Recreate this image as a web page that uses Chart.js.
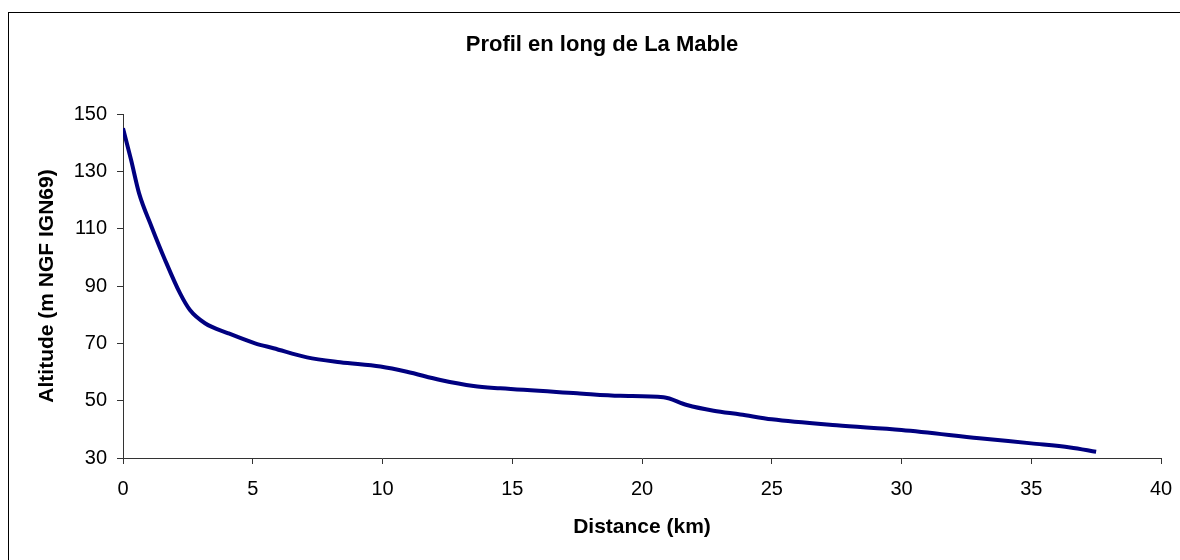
<!DOCTYPE html>
<html>
<head>
<meta charset="utf-8">
<script src="https://cdn.jsdelivr.net/npm/chart.js@4.4.1/dist/chart.umd.min.js"></script>
<style>
  html, body { margin: 0; padding: 0; background: #ffffff; }
  #wrap { width: 1180px; height: 560px; position: relative; }
</style>
</head>
<body>
<div id="wrap"><canvas id="c" width="1180" height="560"></canvas></div>
<script>
// Distance along the river (km)
const distances = [0, 0.31, 0.62, 1.10, 1.62, 2.20, 2.58, 3.16, 4.06, 5.09, 5.80, 7.09, 8.37, 9.92, 10.94, 12.23, 13.51, 14.54, 17.5, 19.16, 20.83, 21.73, 22.76, 23.79, 25, 27.5, 30, 33, 35, 36.5, 37.5];
// Altitude (m NGF IGN69)
const altitudes = [145, 134, 122.3, 110.7, 99.1, 87.4, 81.6, 77.0, 73.5, 70.0, 68.3, 65.1, 63.4, 61.9, 60.1, 57.2, 55.1, 54.3, 52.6, 51.7, 51.2, 48.5, 46.5, 45.2, 43.5, 41.4, 39.8, 36.9, 35.1, 33.7, 32.2];
const xTicks = [0, 5, 10, 15, 20, 25, 30, 35, 40];
const yTicks = [30, 50, 70, 90, 110, 130, 150];
const chartTitle = 'Profil en long de La Mable';

const FONT = "'Liberation Sans', Arial, sans-serif";
const points = distances.map((d, i) => ({ x: d, y: altitudes[i] }));

const decorPlugin = {
  id: 'decor',
  afterDraw(chart) {
    const ctx = chart.ctx;
    ctx.save();
    ctx.strokeStyle = '#000';
    ctx.lineWidth = 1;
    ctx.strokeRect(8.5, 12.5, 1200, 600);
    ctx.fillStyle = '#000';
    ctx.font = "bold 22px " + FONT;
    ctx.textAlign = 'center';
    ctx.textBaseline = 'alphabetic';
    ctx.fillText(chartTitle, 602, 51);
    ctx.restore();
  }
};

new Chart(document.getElementById('c'), {
  type: 'scatter',
  data: {
    datasets: [{
      data: points,
      showLine: true,
      borderColor: '#000080',
      borderWidth: 4,
      pointRadius: 0,
      cubicInterpolationMode: 'monotone',
      fill: false
    }]
  },
  options: {
    responsive: false,
    animation: false,
    devicePixelRatio: 1,
    layout: { padding: { left: 0, right: 19, top: 114, bottom: 0 } },
    plugins: {
      legend: { display: false },
      tooltip: { enabled: false },
      title: { display: false }
    },
    scales: {
      x: {
        type: 'linear',
        min: 0, max: 40,
        afterBuildTicks(scale) { scale.ticks = xTicks.map(v => ({ value: v })); },
        afterFit(scale) { scale.height = 102; scale.paddingLeft = 0; scale.paddingRight = 0; },
        grid: { drawOnChartArea: false, drawTicks: true, tickLength: 6, tickColor: '#333', tickWidth: 1 },
        border: { display: true, color: '#333', width: 1 },
        ticks: { color: '#000', font: { family: FONT, size: 20 }, padding: 13, maxRotation: 0 },
        title: {
          display: true,
          text: 'Distance (km)',
          color: '#000',
          font: { family: FONT, size: 21, weight: 'bold' },
          padding: { top: 0, bottom: 20 }
        }
      },
      y: {
        type: 'linear',
        min: 30, max: 150,
        afterBuildTicks(scale) { scale.ticks = yTicks.map(v => ({ value: v })); },
        afterFit(scale) { scale.width = 123; scale.paddingTop = 0; scale.paddingBottom = 0; },
        grid: { drawOnChartArea: false, drawTicks: true, tickLength: 6, tickColor: '#333', tickWidth: 1 },
        border: { display: true, color: '#333', width: 1 },
        ticks: { color: '#000', font: { family: FONT, size: 20 }, padding: 10 },
        title: {
          display: true,
          text: 'Altitude (m NGF IGN69)',
          color: '#000',
          font: { family: FONT, size: 21, weight: 'bold' },
          padding: { top: 35, bottom: 0 }
        }
      }
    }
  },
  plugins: [decorPlugin]
});
</script>
</body>
</html>
